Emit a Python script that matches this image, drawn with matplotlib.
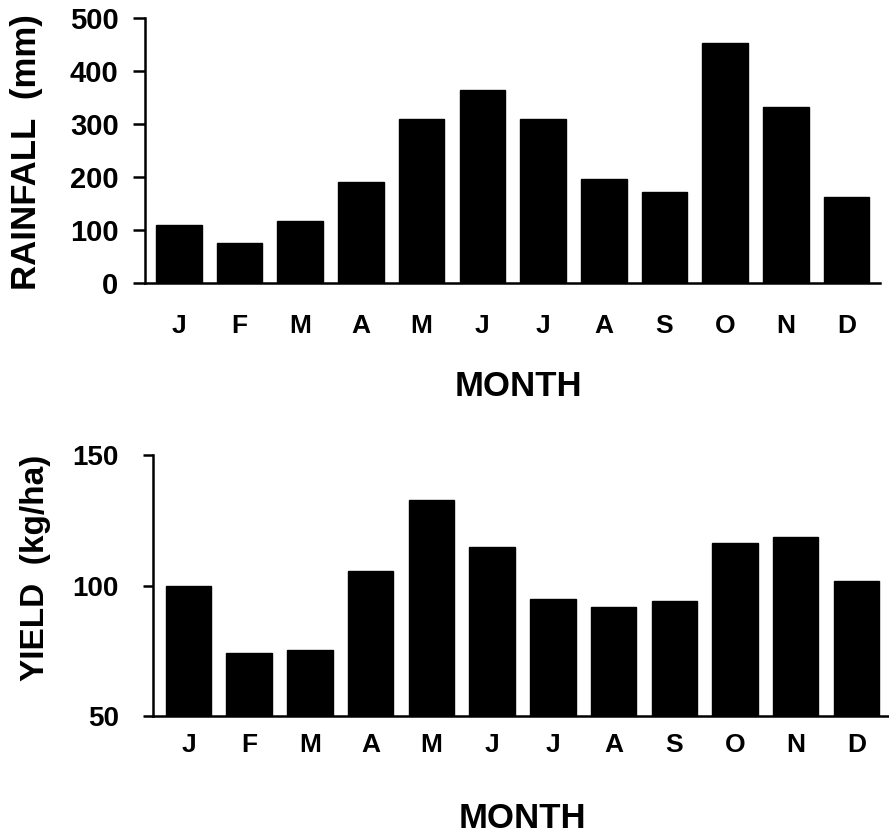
import matplotlib
matplotlib.use("Agg")
import matplotlib.pyplot as plt
import numpy as np

months = ["J", "F", "M", "A", "M", "J", "J", "A", "S", "O", "N", "D"]
rainfall = [109, 75, 117, 191, 309, 364, 309, 197, 172, 452, 333, 162]
yield_vals = [100, 74, 75.3, 105.5, 132.8, 114.9, 94.8, 91.9, 94, 116.4, 118.7, 101.7]
rain_ticks = [0, 100, 200, 300, 400, 500]
yield_ticks = [50, 100, 150]

plt.rcParams['font.family'] = ['Liberation Sans', 'DejaVu Sans']
plt.rcParams['font.weight'] = 'bold'

W, H = 889, 836
fig = plt.figure(figsize=(W / 100, H / 100), dpi=100)

def px_axes(left, right, top, bottom):
    return [left / W, 1 - bottom / H, (right - left) / W, (bottom - top) / H]

x = np.arange(len(months))

# Top: rainfall
ax1 = fig.add_axes(px_axes(145, 880, 18, 283))
ax1.bar(x, rainfall, width=0.75, color='black', edgecolor='black')
ax1.set_xlim(-0.557, 11.55)
ax1.set_ylim(0, 500)
ax1.set_yticks(rain_ticks)
ax1.set_xticks(x)
ax1.set_xticklabels(months)

# Bottom: yield
ax2 = fig.add_axes(px_axes(153, 888, 455, 716))
ax2.bar(x, yield_vals, width=0.75, color='black', edgecolor='black')
ax2.set_xlim(-0.585, 11.52)
ax2.set_ylim(50, 150)
ax2.set_yticks(yield_ticks)
ax2.set_xticks(x)
ax2.set_xticklabels(months)

for ax, xpad, ypad, tl, ysz in [(ax1, 22, 10, 9, 21), (ax2, 12, 17, 7.5, 20)]:
    for s in ['top', 'right']:
        ax.spines[s].set_visible(False)
    for s in ['left', 'bottom']:
        ax.spines[s].set_linewidth(1.8)
    ax.tick_params(axis='y', direction='out', length=tl, width=1.8,
                   labelsize=ysz, pad=ypad)
    ax.tick_params(axis='x', length=0, labelsize=19, pad=xpad)
    for lab in ax.get_xticklabels() + ax.get_yticklabels():
        lab.set_fontweight('bold')

fig.text(518 / W, 1 - 386 / H, "MONTH", ha='center', va='center',
         fontsize=25, fontweight='bold')
fig.text(522 / W, 1 - 818 / H, "MONTH", ha='center', va='center',
         fontsize=25, fontweight='bold')
fig.text(27 / W, 1 - 152 / H, "RAINFALL  (mm)", ha='center', va='center',
         rotation=90, fontsize=25, fontweight='bold')
fig.text(36 / W, 1 - 568 / H, "YIELD  (kg/ha)", ha='center', va='center',
         rotation=90, fontsize=24, fontweight='bold')

fig.savefig("out.png", dpi=100)
